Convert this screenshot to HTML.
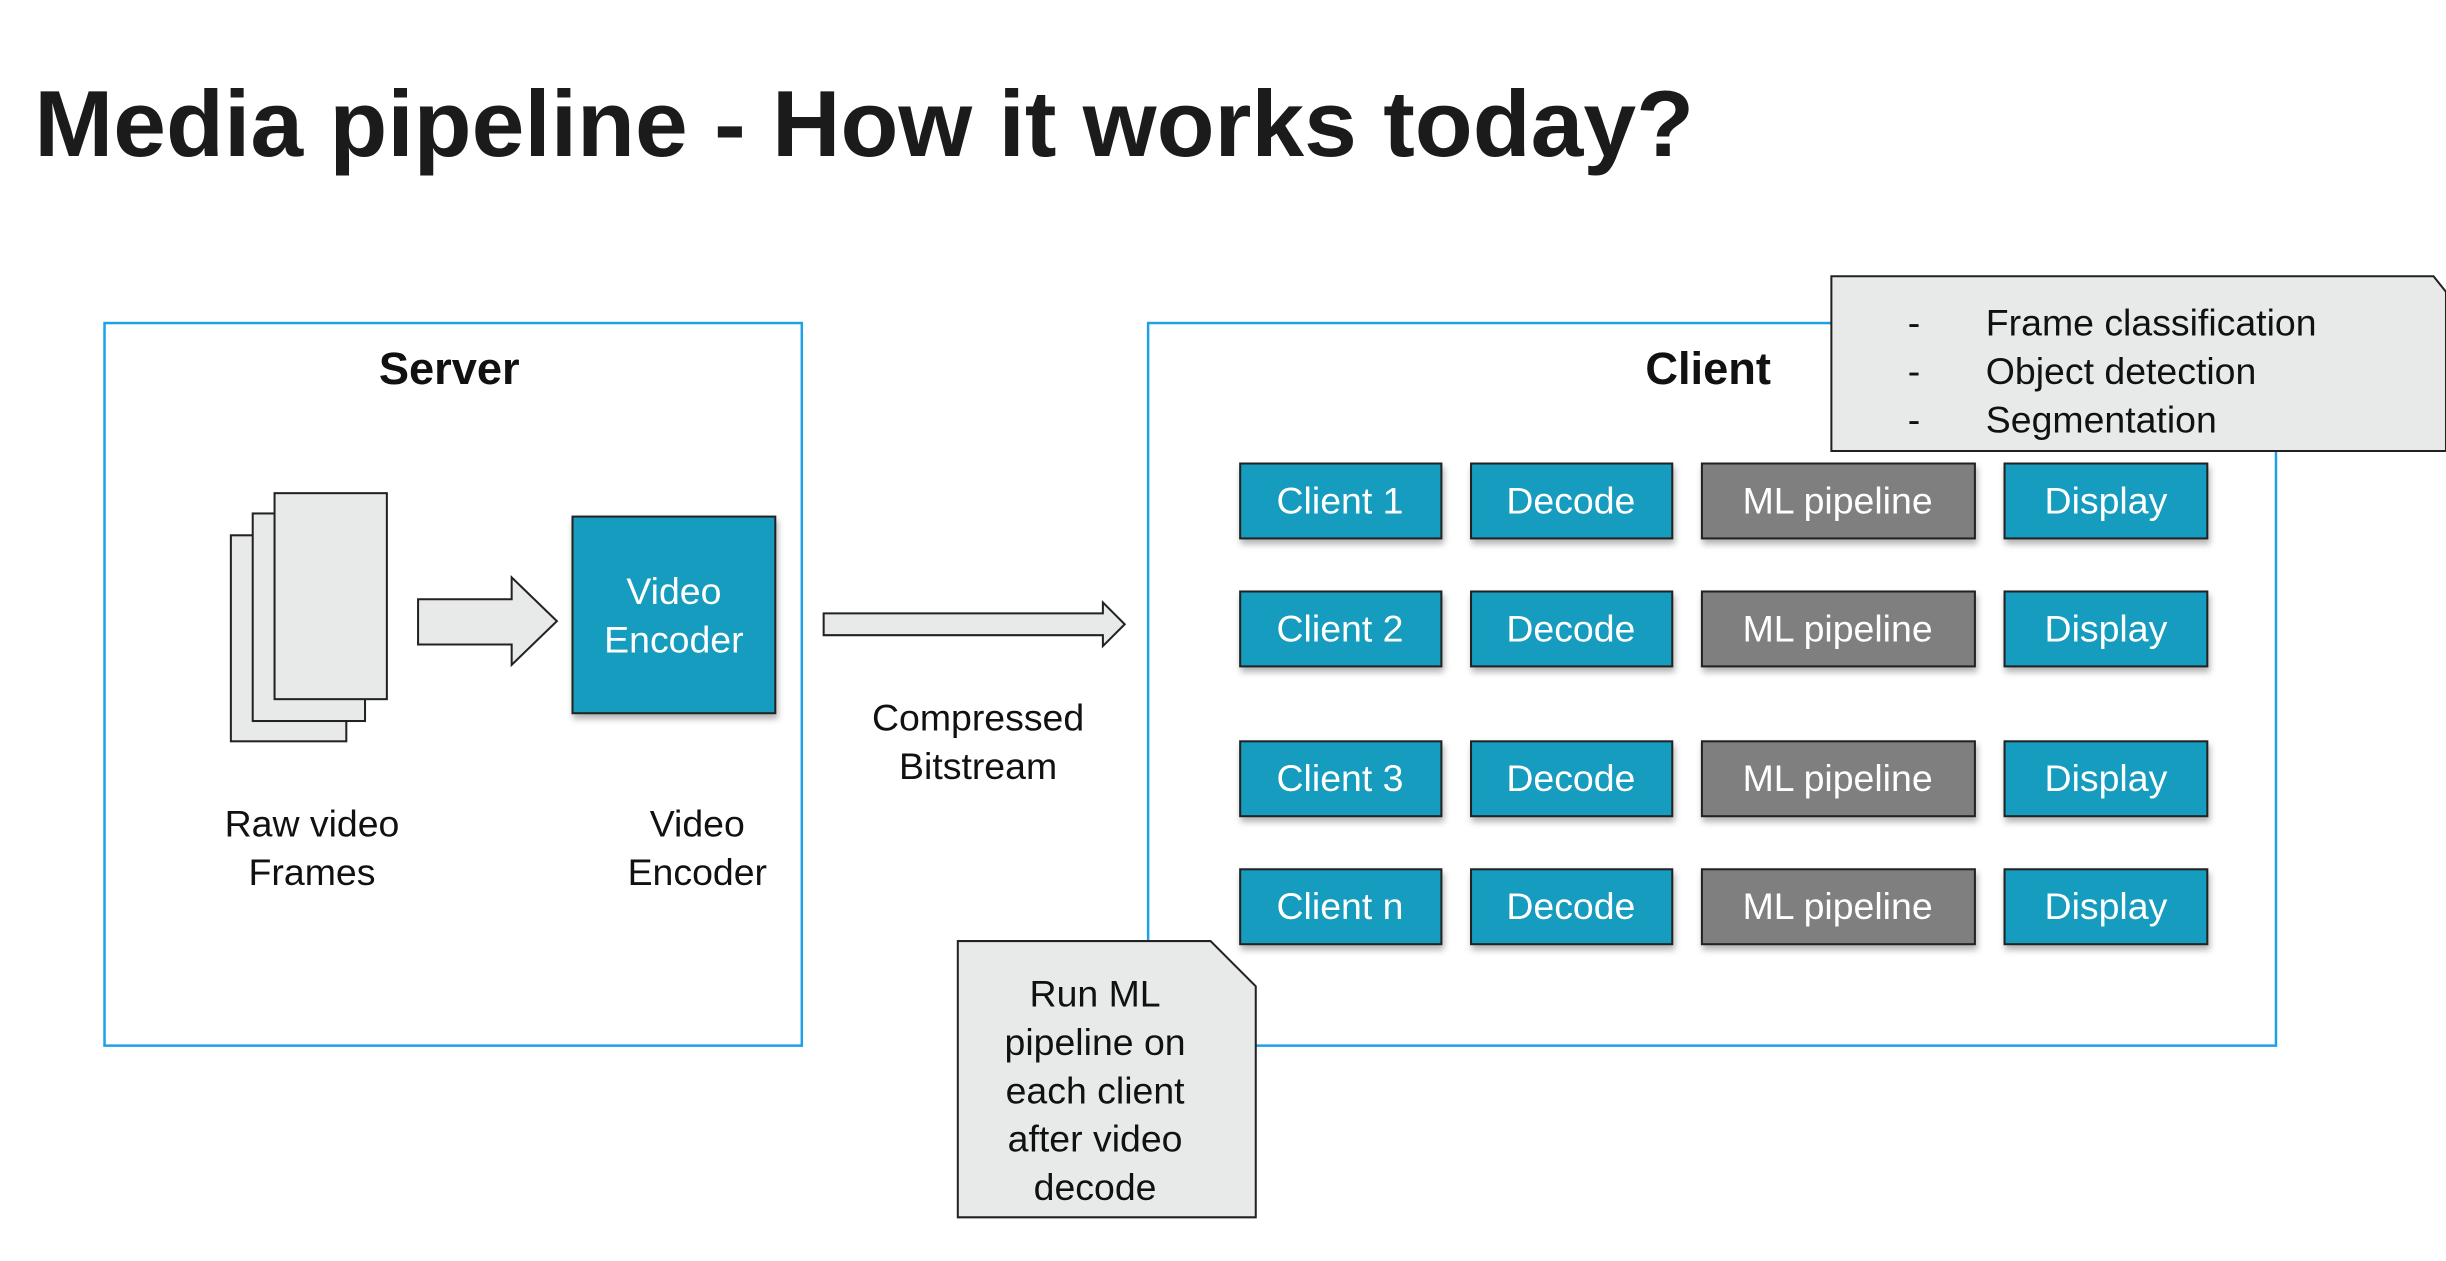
<!DOCTYPE html>
<html><head><meta charset="utf-8"><style>
html,body{margin:0;padding:0;background:#fff;overflow:hidden}
svg{display:block}
text{font-family:"Liberation Sans",sans-serif}
</style></head><body>
<svg width="2446" height="1261" viewBox="0 0 1568 808" preserveAspectRatio="none" xmlns="http://www.w3.org/2000/svg">
<defs>
<filter id="sh" x="-10%" y="-10%" width="130%" height="140%"><feDropShadow dx="1" dy="3" stdDeviation="2" flood-color="#000" flood-opacity="0.3"/></filter>
</defs>
<text x="22" y="100" font-size="60" font-weight="bold" fill="#1b1b1b" textLength="1064" lengthAdjust="spacingAndGlyphs">Media pipeline - How it works today?</text>

<rect x="67" y="207" width="447" height="463" fill="none" stroke="#1ea0e8" stroke-width="1.6"/>
<text x="288" y="246" font-size="29" font-weight="bold" text-anchor="middle" fill="#111">Server</text>

<rect x="148" y="343" width="74" height="132" fill="#e8eaea" stroke="#222" stroke-width="1.3"/>
<rect x="162" y="329" width="72" height="133" fill="#e8eaea" stroke="#222" stroke-width="1.3"/>
<rect x="176" y="316" width="72" height="132" fill="#e8eaea" stroke="#222" stroke-width="1.3"/>

<polygon points="268,384 328,384 328,370 357,398 328,426 328,413 268,413" fill="#e8eaea" stroke="#222" stroke-width="1.3"/>

<rect x="367" y="331" width="130" height="126" fill="#149cbe" stroke="#222" stroke-width="1.3" filter="url(#sh)"/>
<text x="432" y="387" font-size="24" text-anchor="middle" fill="#fff">Video</text>
<text x="432" y="418" font-size="24" text-anchor="middle" fill="#fff">Encoder</text>

<polygon points="528,393 707,393 707,386 721,400 707,414 707,407 528,407" fill="#e8eaea" stroke="#222" stroke-width="1.3"/>

<g font-size="24" text-anchor="middle" fill="#111">
<text x="627" y="468">Compressed</text>
<text x="627" y="499">Bitstream</text>
<text x="200" y="536">Raw video</text>
<text x="200" y="567">Frames</text>
<text x="447" y="536">Video</text>
<text x="447" y="567">Encoder</text>
</g>

<rect x="736" y="207" width="723" height="463" fill="none" stroke="#1ea0e8" stroke-width="1.6"/>
<text x="1095" y="246" font-size="29" font-weight="bold" text-anchor="middle" fill="#111">Client</text>

<polygon points="1174,177 1560,177 1568,187 1568,289 1174,289" fill="#e8eaea" stroke="#222" stroke-width="1.3"/>
<g font-size="24" fill="#111">
<text x="1223" y="215">-</text><text x="1273" y="215">Frame classification</text>
<text x="1223" y="246">-</text><text x="1273" y="246">Object detection</text>
<text x="1223" y="277">-</text><text x="1273" y="277">Segmentation</text>
</g>

<g font-size="24" text-anchor="middle" fill="#fff" stroke-width="1.3">
<g transform="translate(0,297)">
<rect x="795" y="0" width="129" height="48" fill="#149cbe" stroke="#222" filter="url(#sh)"/><text x="859" y="32">Client 1</text>
<rect x="943" y="0" width="129" height="48" fill="#149cbe" stroke="#222" filter="url(#sh)"/><text x="1007" y="32">Decode</text>
<rect x="1091" y="0" width="175" height="48" fill="#7f7f7f" stroke="#222" filter="url(#sh)"/><text x="1178" y="32">ML pipeline</text>
<rect x="1285" y="0" width="130" height="48" fill="#149cbe" stroke="#222" filter="url(#sh)"/><text x="1350" y="32">Display</text>
</g>
<g transform="translate(0,379)">
<rect x="795" y="0" width="129" height="48" fill="#149cbe" stroke="#222" filter="url(#sh)"/><text x="859" y="32">Client 2</text>
<rect x="943" y="0" width="129" height="48" fill="#149cbe" stroke="#222" filter="url(#sh)"/><text x="1007" y="32">Decode</text>
<rect x="1091" y="0" width="175" height="48" fill="#7f7f7f" stroke="#222" filter="url(#sh)"/><text x="1178" y="32">ML pipeline</text>
<rect x="1285" y="0" width="130" height="48" fill="#149cbe" stroke="#222" filter="url(#sh)"/><text x="1350" y="32">Display</text>
</g>
<g transform="translate(0,475)">
<rect x="795" y="0" width="129" height="48" fill="#149cbe" stroke="#222" filter="url(#sh)"/><text x="859" y="32">Client 3</text>
<rect x="943" y="0" width="129" height="48" fill="#149cbe" stroke="#222" filter="url(#sh)"/><text x="1007" y="32">Decode</text>
<rect x="1091" y="0" width="175" height="48" fill="#7f7f7f" stroke="#222" filter="url(#sh)"/><text x="1178" y="32">ML pipeline</text>
<rect x="1285" y="0" width="130" height="48" fill="#149cbe" stroke="#222" filter="url(#sh)"/><text x="1350" y="32">Display</text>
</g>
<g transform="translate(0,557)">
<rect x="795" y="0" width="129" height="48" fill="#149cbe" stroke="#222" filter="url(#sh)"/><text x="859" y="32">Client n</text>
<rect x="943" y="0" width="129" height="48" fill="#149cbe" stroke="#222" filter="url(#sh)"/><text x="1007" y="32">Decode</text>
<rect x="1091" y="0" width="175" height="48" fill="#7f7f7f" stroke="#222" filter="url(#sh)"/><text x="1178" y="32">ML pipeline</text>
<rect x="1285" y="0" width="130" height="48" fill="#149cbe" stroke="#222" filter="url(#sh)"/><text x="1350" y="32">Display</text>
</g>
</g>

<polygon points="614,603 776,603 805,632 805,780 614,780" fill="#e8eaea" stroke="#222" stroke-width="1.3"/>
<g font-size="24" text-anchor="middle" fill="#111">
<text x="702" y="645">Run ML</text>
<text x="702" y="676">pipeline on</text>
<text x="702" y="707">each client</text>
<text x="702" y="738">after video</text>
<text x="702" y="769">decode</text>
</g>
</svg>
</body></html>
